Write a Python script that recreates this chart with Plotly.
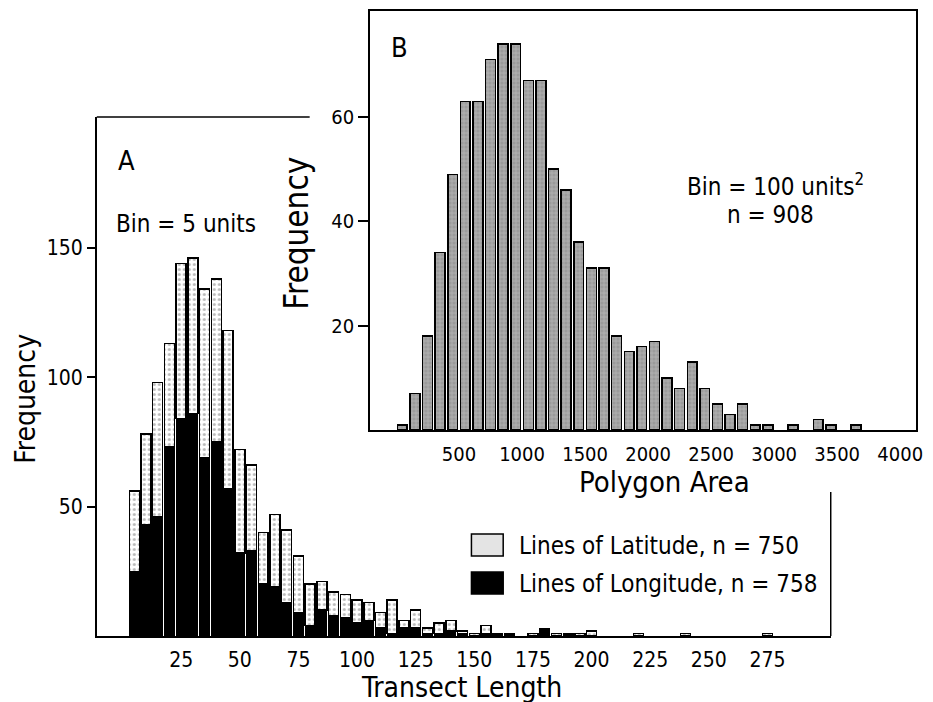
import plotly.graph_objects as go

# ---------------- Data ----------------
# Panel A: transect length, 5-unit bins (bar centres)
a_bins = [5 * i for i in range(1, 56)]
a_lon = [25, 43, 46, 73, 84, 86, 69, 75, 57, 32, 33, 20, 19, 13, 9, 4, 10, 8, 7, 5,
         6, 3, 1, 3, 3, 1, 1, 2, 1, 0, 1, 1, 1, 0, 0, 3, 0, 1, 0, 0,
         0, 0, 0, 0, 0, 0, 0, 0, 0, 0, 0, 0, 0, 0, 0]
a_lat = [31, 35, 52, 40, 60, 60, 65, 63, 61, 40, 33, 20, 28, 28, 22, 16, 11, 9, 9, 9,
         7, 6, 13, 3, 7, 2, 4, 4, 1, 1, 3, 0, 0, 0, 1, 0, 1, 0, 1, 2,
         0, 0, 0, 1, 0, 0, 0, 1, 0, 0, 0, 0, 0, 0, 1]
a_xticks = [25, 50, 75, 100, 125, 150, 175, 200, 225, 250, 275]
a_yticks = [50, 100, 150]

# Panel B: polygon area, 100-unit bins (bar centres)
b_bins = [50 + 100 * i for i in range(37)]
b_freq = [1, 7, 18, 34, 49, 63, 63, 71, 74, 74, 67, 67, 50, 46, 36, 31, 31, 18, 15, 16,
          17, 10, 8, 13, 8, 5, 3, 5, 1, 1, 0, 1, 0, 2, 1, 0, 1]
b_xticks = [500, 1000, 1500, 2000, 2500, 3000, 3500, 4000]
b_yticks = [20, 40, 60]

lat_label = "Lines of Latitude, n = 750"
lon_label = "Lines of Longitude, n = 758"

# ---------------- Figure ----------------
W, H = 933, 702
FONT = "DejaVu Sans Condensed, Liberation Sans, Arial, sans-serif"

def px(x):
    return x / W

def py(y):
    return 1 - y / H

def nz(vals):
    # empty bins are not drawn (no outline on the axis)
    return [v if v else None for v in vals]

fig = go.Figure()

fig.add_trace(go.Bar(
    x=a_bins, y=nz(a_lon), name=lon_label, xaxis="x", yaxis="y",
    marker=dict(color="black", line=dict(color="black", width=1.2)),
    showlegend=False,
))
fig.add_trace(go.Bar(
    x=a_bins, y=nz(a_lat), name=lat_label, xaxis="x", yaxis="y",
    marker=dict(color="white", line=dict(color="black", width=1.5),
                pattern=dict(shape=".", fgcolor="#7a7a7a", size=5, solidity=0.3)),
    showlegend=False,
))
fig.add_trace(go.Bar(
    x=b_bins, y=nz(b_freq), xaxis="x2", yaxis="y2", width=78,
    marker=dict(color="#9a9a9a", line=dict(color="black", width=1.5),
                pattern=dict(shape="+", fgcolor="#d8d8d8", size=4, solidity=0.3)),
    showlegend=False,
))

def tf(size):
    return dict(family=FONT, size=size, color="black")

axis_common = dict(showgrid=False, zeroline=False, linecolor="black", linewidth=1.5)

fig.update_layout(
    width=W, height=H,
    margin=dict(l=0, r=0, t=0, b=0),
    paper_bgcolor="white", plot_bgcolor="white",
    barmode="stack", bargap=0.15,
    showlegend=False,
    xaxis=dict(axis_common, domain=[px(97.5), px(837)], range=[-11, 302],
               showline=True, tickvals=a_xticks, ticks="", ticklabelstandoff=4,
               anchor="y", tickfont=tf(21)),
    yaxis=dict(axis_common, domain=[py(636), py(117)], range=[0, 200.5],
               showline=True, tickvals=a_yticks, ticks="outside", ticklen=8,
               tickcolor="black", tickwidth=1.5, anchor="x", tickfont=tf(21)),
    xaxis2=dict(axis_common, domain=[px(372.7), px(923)], range=[-207, 4126],
                showline=True, mirror=True, tickvals=b_xticks, ticks="",
                ticklabelstandoff=5, anchor="y2", tickfont=tf(20)),
    yaxis2=dict(axis_common, domain=[py(430), py(11)], range=[0, 80.3],
                showline=True, mirror=True, tickvals=b_yticks, ticks="outside",
                ticklen=10, tickcolor="black", tickwidth=1.5, anchor="x2",
                tickfont=tf(20)),
)

shapes = [
    # remaining parts of panel A frame (partly hidden by inset B)
    dict(type="line", xref="paper", yref="paper", x0=px(97.5), x1=px(312),
         y0=py(117), y1=py(117), line=dict(color="black", width=1.5)),
    dict(type="line", xref="paper", yref="paper", x0=px(837), x1=px(837),
         y0=py(492), y1=py(636), line=dict(color="black", width=1.5)),
    # legend swatches
    dict(type="rect", xref="paper", yref="paper", x0=px(475), x1=px(507),
         y0=py(556), y1=py(534), fillcolor="#e4e4e4", line=dict(color="black", width=1.5)),
    dict(type="rect", xref="paper", yref="paper", x0=px(475), x1=px(507),
         y0=py(594), y1=py(572), fillcolor="black", line=dict(color="black", width=1.5)),
]
fig.update_layout(shapes=shapes)

def ann(text, x, y, size, xanchor="center", yanchor="middle", angle=0):
    return dict(text=text, x=px(x), y=py(y), xref="paper", yref="paper",
                showarrow=False, xanchor=xanchor, yanchor=yanchor, textangle=angle,
                font=dict(family=FONT, size=size, color="black"))

annotations = [
    ann("A", 127, 160, 27),
    ann("Bin = 5 units", 115, 224, 24, xanchor="left"),
    ann("B", 403, 47, 27),
    ann("Bin = 100 units<sup>2</sup>", 690, 185, 24, xanchor="left"),
    ann("n = 908", 776, 215, 24),
    ann(lat_label, 521, 546, 24, xanchor="left"),
    ann(lon_label, 521, 584, 24, xanchor="left"),
    ann("Frequency", 25, 399, 28, angle=-90),
    ann("Transect Length", 465, 687, 28),
    ann("Polygon Area", 670, 482, 29),
    ann("Frequency", 298, 233, 33, angle=-90),
]
fig.update_layout(annotations=annotations)

fig.write_html("out.html")
